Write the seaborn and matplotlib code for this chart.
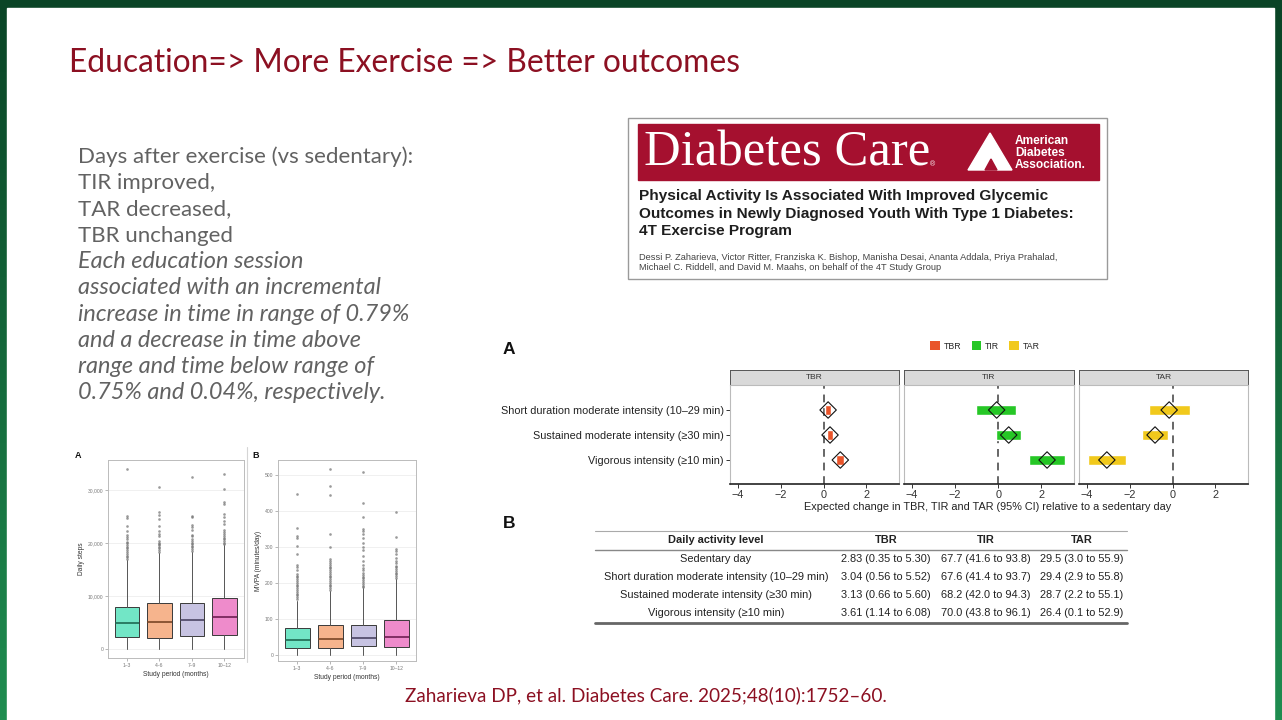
import numpy as np
import pandas as pd
import seaborn as sns
import matplotlib.pyplot as plt
from matplotlib.colors import LinearSegmentedColormap
from matplotlib.patches import Rectangle, Polygon, Patch

# ---- forest plot data (expected change vs sedentary day) ----
activity = ['Short duration moderate intensity (10\u201329 min)',
            'Sustained moderate intensity (\u226530 min)',
            'Vigorous intensity (\u226510 min)']
outcomes = ['TBR', 'TIR', 'TAR']
est_tbr = [0.21, 0.30, 0.78]
lo_tbr = [0.07, 0.17, 0.60]
hi_tbr = [0.36, 0.44, 0.96]
est_tir = [-0.07, 0.49, 2.27]
lo_tir = [-1.04, -0.11, 1.44]
hi_tir = [0.82, 1.07, 3.11]
est_tar = [-0.16, -0.82, -3.07]
lo_tar = [-1.11, -1.44, -3.96]
hi_tar = [0.82, -0.22, -2.18]

# ---- table data ----
table_cols = ['Daily activity level', 'TBR', 'TIR', 'TAR']
table_rows = ['Sedentary day',
              'Short duration moderate intensity (10\u201329 min)',
              'Sustained moderate intensity (\u226530 min)',
              'Vigorous intensity (\u226510 min)']
table_tbr = ['2.83 (0.35 to 5.30)', '3.04 (0.56 to 5.52)', '3.13 (0.66 to 5.60)', '3.61 (1.14 to 6.08)']
table_tir = ['67.7 (41.6 to 93.8)', '67.6 (41.4 to 93.7)', '68.2 (42.0 to 94.3)', '70.0 (43.8 to 96.1)']
table_tar = ['29.5 (3.0 to 55.9)', '29.4 (2.9 to 55.8)', '28.7 (2.2 to 55.1)', '26.4 (0.1 to 52.9)']

# ---- boxplot data ----
periods = ['1\u20133', '4\u20136', '7\u20139', '10\u201312']
steps_q1 = [2190, 2125, 2375, 2690]
steps_med = [4875, 5190, 5440, 6060]
steps_q3 = [8000, 8625, 8625, 9560]
steps_whislo = [0, 0, 0, 0]
steps_whishi = [16800, 18200, 18400, 19600]
steps_fliers = [
    [17000, 17300, 17600, 18000, 18300, 18700, 19000, 19300, 19700, 20000, 20300, 20700, 21200, 21500, 22200, 23200, 24800, 25200, 34000],
    [18400, 18700, 19000, 19300, 19600, 19900, 20100, 20400, 21300, 21700, 22300, 23300, 24500, 25300, 25900, 30600],
    [18600, 18900, 19200, 19500, 19800, 20100, 20400, 20800, 21300, 21600, 22400, 23000, 23500, 24900, 25200, 32500],
    [19800, 20100, 20400, 20700, 21000, 21400, 21800, 22100, 22400, 23600, 24100, 25000, 25500, 27400, 27700, 30300, 33000],
]
mvpa_q1 = [19, 19, 23, 21]
mvpa_med = [40, 44, 47, 50]
mvpa_q3 = [73, 83, 83, 96]
mvpa_whislo = [0, 0, 0, 0]
mvpa_whishi = [150, 177, 184, 210]
mvpa_fliers = [
    [155, 160, 165, 170, 175, 180, 185, 190, 195, 200, 205, 210, 215, 220, 225, 235, 245, 250, 280, 303, 325, 330, 352, 448],
    [180, 185, 190, 195, 200, 205, 210, 215, 220, 225, 230, 235, 240, 245, 250, 255, 260, 265, 300, 335, 445, 470, 516],
    [187, 192, 197, 202, 207, 212, 217, 222, 228, 235, 242, 250, 262, 275, 290, 300, 310, 325, 335, 345, 350, 383, 421, 509],
    [213, 218, 223, 228, 233, 238, 243, 248, 255, 262, 270, 280, 288, 295, 328, 397],
]

sns.set_theme(style='white')
plt.rcParams['font.family'] = ['Liberation Sans', 'DejaVu Sans']

W, H = 1282, 720
fig = plt.figure(figsize=(W / 100, H / 100), dpi=100)


def rect(x0, y0, x1, y1):
    return [x0 / W, 1 - y1 / H, (x1 - x0) / W, (y1 - y0) / H]


# background slide
bg = fig.add_axes([0, 0, 1, 1])
bg.set_xlim(0, W)
bg.set_ylim(H, 0)
bg.axis('off')
green = LinearSegmentedColormap.from_list('g', ['#0A4426', '#1F8D50'])
bg.imshow(np.linspace(0, 1, 200).reshape(-1, 1), cmap=green, aspect='auto',
          extent=[0, W, H, 0], zorder=0)
bg.add_patch(Rectangle((7, 8), 1267, 712, color='white', zorder=1))

red = '#8C1022'
slide_font = ['Lato', 'DejaVu Sans']
bg.text(69, 63, 'Education=> More Exercise => Better outcomes', fontsize=22.9,
        color=red, va='center', family=slide_font, zorder=3)
bg.text(405, 695, 'Zaharieva DP, et al. Diabetes Care. 2025;48(10):1752\u201360.',
        fontsize=13.6, color=red, va='center', family=slide_font, zorder=3)

left_lines = ['Days after exercise (vs sedentary):', 'TIR improved,', 'TAR decreased,',
              'TBR unchanged', 'Each education session', 'associated with an incremental',
              'increase in time in range of 0.79%', 'and a decrease in time above',
              'range and time below range of', '0.75% and 0.04%, respectively.']
for i, line in enumerate(left_lines):
    italic = i >= 4
    bg.text(78, 157 + i * 26.2, line, fontsize=16.9 if italic else 16.0, color='#626262',
            va='center', family=slide_font,
            style='italic' if italic else 'normal', zorder=3)

# journal header
bg.add_patch(Rectangle((628, 118), 479, 161, facecolor='white', edgecolor='#9A9A9A', lw=1, zorder=2))
bg.add_patch(Rectangle((638, 124), 461, 56, color='#A5102F', zorder=3))
bg.text(644, 153, 'Diabetes Care', fontsize=36.5, color='white', va='center',
        family=['Liberation Serif', 'DejaVu Serif'], zorder=4)
bg.text(930, 165, '\u00ae', fontsize=5, color='white', va='center', zorder=4)
bg.add_patch(Polygon([(968, 170), (990, 133), (1012, 170)], color='white', zorder=4))
bg.add_patch(Polygon([(985, 170), (991, 159), (997, 170)], color='#A5102F', zorder=5))
for i, w in enumerate(['American', 'Diabetes', 'Association.']):
    bg.text(1015, 141 + i * 12, w, fontsize=8.6, color='white', weight='bold', va='center', zorder=4)
title_lines = ['Physical Activity Is Associated With Improved Glycemic',
               'Outcomes in Newly Diagnosed Youth With Type 1 Diabetes:',
               '4T Exercise Program']
for i, line in enumerate(title_lines):
    bg.text(639, 196 + i * 17.7, line, fontsize=11.1, color='#1E1E1E', weight='bold', va='center', zorder=4)
bg.text(639, 257, 'Dessi P. Zaharieva, Victor Ritter, Franziska K. Bishop, Manisha Desai, Ananta Addala, Priya Prahalad,',
        fontsize=6.65, color='#444444', va='center', zorder=4)
bg.text(639, 268, 'Michael C. Riddell, and David M. Maahs, on behalf of the 4T Study Group',
        fontsize=6.65, color='#444444', va='center', zorder=4)

# ---- forest plot ----
colors = {'TBR': '#E9542A', 'TIR': '#26C726', 'TAR': '#F1C91C'}
forest = {'TBR': (est_tbr, lo_tbr, hi_tbr),
          'TIR': (est_tir, lo_tir, hi_tir),
          'TAR': (est_tar, lo_tar, hi_tar)}
panel_x = [(730, 899), (904, 1074), (1079, 1248)]
fs = 7.85
bg.text(503, 350, 'A', fontsize=12.5, weight='bold', va='center', color='#111111', zorder=4)
bg.text(503, 523, 'B', fontsize=12.5, weight='bold', va='center', color='#111111', zorder=4)

for k, (name, (x0, x1)) in enumerate(zip(outcomes, panel_x)):
    est, lo, hi = forest[name]
    df = pd.DataFrame({'activity': activity, 'est': est, 'lo': lo, 'hi': hi,
                       'pos': range(len(activity))})
    strip = fig.add_axes(rect(x0, 370, x1, 385))
    strip.set_facecolor('#D9D9D9')
    strip.set_xticks([])
    strip.set_yticks([])
    for sp in strip.spines.values():
        sp.set_color('#555555')
        sp.set_linewidth(0.7)
    strip.text(0.5, 0.5, name, fontsize=6.0, color='#333333', ha='center', va='center',
               transform=strip.transAxes)

    ax = fig.add_axes(rect(x0, 385, x1, 484))
    ax.barh(df['pos'], df['hi'] - df['lo'], left=df['lo'], height=0.42,
            color=colors[name], zorder=2)
    ax.axvline(0, color='#666666', lw=1.4, ls=(0, (4, 3)), zorder=1)
    sns.scatterplot(data=df, x='est', y='pos', marker='D', s=70, ax=ax, zorder=4,
                    linewidth=0.8, legend=False)
    ax.collections[-1].set_facecolor('none')
    ax.collections[-1].set_edgecolor('#111111')
    ax.set_xlim(-4.37, 3.52)
    ax.set_ylim(2.96, -1)
    ax.set_xticks([-4, -2, 0, 2])
    ax.set_xticklabels(['\u22124', '\u22122', '0', '2'], fontsize=fs, color='#333333')
    ax.set_xlabel('')
    ax.set_ylabel('')
    ax.tick_params(axis='x', length=3, width=0.7, color='#333333', pad=1.5, bottom=True)
    if k == 0:
        ax.set_yticks(df['pos'])
        ax.set_yticklabels(activity, fontsize=fs, color='#222222')
        ax.tick_params(axis='y', length=3, width=0.7, color='#333333', pad=1.5, left=True)
    else:
        ax.set_yticks([])
    for side in ['left', 'right', 'top']:
        ax.spines[side].set_color('#BBBBBB')
        ax.spines[side].set_linewidth(0.8)
    ax.spines['bottom'].set_color('#222222')
    ax.spines['bottom'].set_linewidth(1.2)

fig.text(988 / W, 1 - 507 / H,
         'Expected change in TBR, TIR and TAR (95% CI) relative to a sedentary day',
         fontsize=fs, color='#222222', ha='center', va='center')
handles = [Patch(facecolor=colors[n], edgecolor='none') for n in outcomes]
fig.legend(handles, outcomes, loc='center', bbox_to_anchor=(985 / W, 1 - 346 / H), ncol=3,
           frameon=False, fontsize=6.3, handlelength=1.1, handleheight=1.2,
           handletextpad=0.4, columnspacing=1.2)

# ---- table ----
col_x = [716, 886, 986, 1082]
bg.plot([595, 1127], [531, 531], color='#AAAAAA', lw=0.8, zorder=3)
bg.plot([595, 1127], [550, 550], color='#888888', lw=1.0, zorder=3)
bg.plot([595, 1127], [623, 623], color='#666666', lw=2.0, zorder=3)
for cx, c in zip(col_x, table_cols):
    bg.text(cx, 540, c, fontsize=7.9, weight='bold', ha='center', va='center', color='#222222', zorder=4)
for i in range(len(table_rows)):
    y = 559 + i * 18
    for cx, v in zip(col_x, [table_rows[i], table_tbr[i], table_tir[i], table_tar[i]]):
        bg.text(cx, y, v, fontsize=7.9, ha='center', va='center', color='#222222', zorder=4)

# ---- boxplots ----
box_colors = ['#72E6C6', '#F6B48D', '#C7C3E2', '#EE8BCB']
med_colors = ['#1E6A52', '#7A4626', '#4B4463', '#6E1E52']


def draw_box(ax, q1, med, q3, wlo, whi, fliers, ylim, yticks, ylabels, ylabel):
    stats = [dict(q1=q1[i], med=med[i], q3=q3[i], whislo=wlo[i], whishi=whi[i],
                  fliers=fliers[i], label=periods[i]) for i in range(len(periods))]
    res = ax.bxp(stats, positions=range(len(periods)), widths=0.75, patch_artist=True,
                 showcaps=False,
                 boxprops=dict(edgecolor='#3A3A3A', linewidth=0.7),
                 whiskerprops=dict(color='#555555', linewidth=0.7),
                 flierprops=dict(marker='o', markersize=1.9, markerfacecolor='#707070',
                                 markeredgecolor='none', alpha=0.7),
                 medianprops=dict(linewidth=1.2))
    for patch, fc in zip(res['boxes'], box_colors):
        patch.set_facecolor(fc)
    for line, mc in zip(res['medians'], med_colors):
        line.set_color(mc)
    ax.set_xlim(-0.58, 3.6)
    ax.set_ylim(*ylim)
    ax.set_yticks(yticks)
    ax.set_yticklabels(ylabels, fontsize=3.6, color='#777777')
    ax.set_xticks(range(len(periods)))
    ax.set_xticklabels(periods, fontsize=3.6, color='#777777')
    ax.tick_params(length=2, width=0.5, color='#999999', pad=1.5, left=True, bottom=True)
    ax.grid(True, axis='y', color='#EEEEEE', lw=0.6)
    ax.set_axisbelow(True)
    for sp in ax.spines.values():
        sp.set_color('#BBBBBB')
        sp.set_linewidth(0.7)
    ax.set_xlabel('Study period (months)', fontsize=4.8, color='#333333', labelpad=2)
    ax.set_ylabel(ylabel, fontsize=4.8, color='#333333', labelpad=2)


axA = fig.add_axes(rect(108, 460, 244, 658))
draw_box(axA, steps_q1, steps_med, steps_q3, steps_whislo, steps_whishi, steps_fliers,
         (-1700, 35700), [0, 10000, 20000, 30000], ['0', '10,000', '20,000', '30,000'], 'Daily steps')
axB = fig.add_axes(rect(278, 460, 416, 661))
draw_box(axB, mvpa_q1, mvpa_med, mvpa_q3, mvpa_whislo, mvpa_whishi, mvpa_fliers,
         (-18, 542), [0, 100, 200, 300, 400, 500], ['0', '100', '200', '300', '400', '500'],
         'MVPA (minutes/day)')
bg.text(75, 456, 'A', fontsize=6.5, weight='bold', va='center', color='#111111', zorder=4)
bg.text(252, 456, 'B', fontsize=6.5, weight='bold', va='center', color='#111111', zorder=4)
bg.plot([247, 247], [447, 662], color='#D5D5D5', lw=0.8, zorder=3)

fig.savefig('out.png', dpi=100)
